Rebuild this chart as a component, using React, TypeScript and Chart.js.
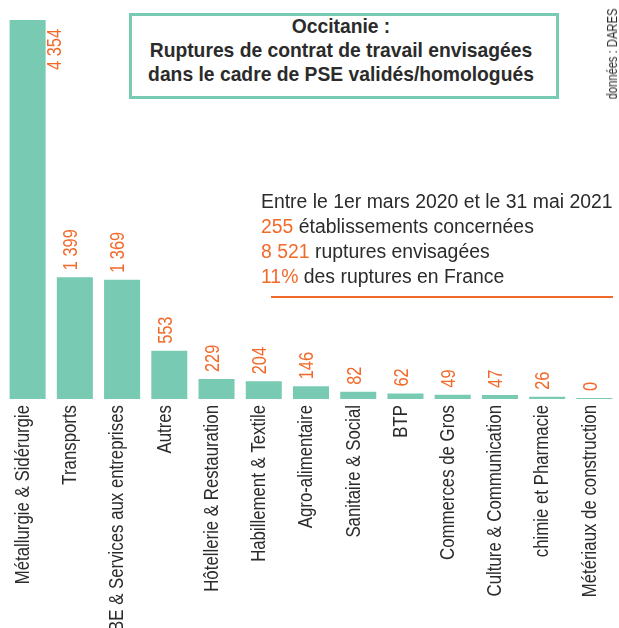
import React, { useEffect, useRef } from "react";
import { Chart, registerables } from "chart.js";

Chart.register(...registerables);

const categories = [
  "Métallurgie & Sidérurgie",
  "Transports",
  "BE & Services aux entreprises",
  "Autres",
  "Hôtellerie & Restauration",
  "Habillement & Textile",
  "Agro-alimentaire",
  "Sanitaire & Social",
  "BTP",
  "Commerces de Gros",
  "Culture & Communication",
  "chimie et Pharmacie",
  "Métériaux de construction",
];
const ruptures = [4354, 1399, 1369, 553, 229, 204, 146, 82, 62, 49, 47, 26, 0];

const titleLines = [
  "Occitanie :",
  "Ruptures de contrat de travail envisagées",
  "dans le cadre de PSE validés/homologués",
];
const summaryIntro = "Entre le 1er mars 2020 et le 31 mai 2021";
const summaryValues = ["255", "8 521", "11%"];
const summaryTexts = [" établissements concernées", " ruptures envisagées", " des ruptures en France"];
const sourceText = "données : DARES";

const TEAL = "#79cab3";
const ORANGE = "#f26a2b";
const DARK = "#2b2b2b";
const FONT = "'Liberation Sans', Arial, sans-serif";

const fmt = (v: number) => v.toString().replace(/\B(?=(\d{3})+(?!\d))/g, " ");

function drawRotated(ctx: any, txt: string, x: number, y: number, align: string, sx: number) {
  ctx.save();
  ctx.translate(x, y);
  ctx.rotate(-Math.PI / 2);
  ctx.scale(sx, 1);
  ctx.textAlign = align;
  ctx.textBaseline = "middle";
  ctx.fillText(txt, 0, 0);
  ctx.restore();
}

const labelsPlugin = {
  id: "labelsPlugin",
  afterDatasetsDraw(chart: any) {
    const ctx = chart.ctx;
    const meta = chart.getDatasetMeta(0);
    const data = chart.data.datasets[0].data as number[];
    const xScale = chart.scales.x;
    const base = chart.chartArea.bottom;
    ctx.save();
    // value labels
    ctx.fillStyle = ORANGE;
    ctx.font = `21px ${FONT}`;
    const sxv = 0.78;
    meta.data.forEach((bar: any, i: number) => {
      const txt = fmt(data[i]);
      const w = ctx.measureText(txt).width * sxv;
      let x = bar.x - 3.5;
      let y = bar.y - 7;
      if (y - w < 2) {
        x = bar.x + bar.width / 2 + 10;
        y = bar.y + 50;
      }
      drawRotated(ctx, txt, x, y, "left", sxv);
    });
    // category labels
    ctx.fillStyle = DARK;
    ctx.font = `21px ${FONT}`;
    (chart.data.labels as string[]).forEach((lab: string, i: number) => {
      const x = xScale.getPixelForTick(i) - 4.5;
      drawRotated(ctx, lab, x, base + 6, "right", 0.8);
    });
    ctx.restore();
  },
};

const lineStyle = (top: number, left: number, size: number, sx: number, extra: any = {}) => ({
  position: "absolute" as const,
  top,
  left,
  fontSize: size,
  lineHeight: `${size}px`,
  whiteSpace: "nowrap" as const,
  transform: `scaleX(${sx})`,
  transformOrigin: "left top",
  ...extra,
});

export default function App() {
  const ref = useRef<HTMLCanvasElement | null>(null);
  useEffect(() => {
    if (!ref.current) return;
    const chart = new Chart(ref.current, {
      type: "bar",
      data: {
        labels: categories,
        datasets: [
          {
            data: ruptures,
            backgroundColor: TEAL,
            borderWidth: 0,
            barPercentage: 0.763,
            categoryPercentage: 1,
            minBarLength: 1,
          },
        ],
      },
      options: {
        animation: false,
        responsive: false,
        maintainAspectRatio: false,
        layout: { padding: { top: 20, left: 4, right: 1, bottom: 0 } },
        plugins: { legend: { display: false }, tooltip: { enabled: false }, title: { display: false } },
        scales: {
          x: {
            grid: { display: false },
            border: { display: false },
            ticks: { display: false, autoSkip: false },
            afterFit: (scale: any) => {
              scale.height = 229;
            },
          },
          y: { display: false, min: 0, max: 4354 },
        },
      },
      plugins: [labelsPlugin],
    });
    return () => chart.destroy();
  }, []);

  const titleFs = 19.3;
  const titleBase = [33.3, 57.3, 81.3];
  const sumFs = 20;
  const sumBase = [208.3, 233.3, 258.3, 283.3];

  return (
    <div style={{ position: "absolute", left: 0, top: 0, width: 619, height: 628, overflow: "hidden", background: "#fff", fontFamily: FONT }}>
      <canvas ref={ref} width={619} height={628} style={{ position: "absolute", left: 0, top: 0, width: 619, height: 628 }} />
      <div
        style={{
          position: "absolute",
          left: 129,
          top: 13,
          width: 430,
          height: 86,
          boxSizing: "border-box",
          border: `3px solid ${TEAL}`,
          background: "#fff",
        }}
      />
      {titleLines.map((l, i) => (
        <div
          key={i}
          style={{
            position: "absolute",
            left: 141,
            width: 400,
            top: titleBase[i] - 0.8465 * titleFs,
            textAlign: "center",
            fontWeight: "bold",
            fontSize: titleFs,
            lineHeight: `${titleFs}px`,
            color: DARK,
            whiteSpace: "nowrap",
          }}
        >
          {l}
        </div>
      ))}
      <div style={lineStyle(sumBase[0] - 0.8465 * sumFs, 261, sumFs, 0.97, { color: DARK })}>{summaryIntro}</div>
      {summaryValues.map((v, i) => (
        <div key={i} style={lineStyle(sumBase[i + 1] - 0.8465 * sumFs, 261, sumFs, 0.97, { color: DARK })}>
          <span style={{ color: ORANGE }}>{v}</span>
          {summaryTexts[i]}
        </div>
      ))}
      <div style={{ position: "absolute", left: 271, top: 296, width: 342, height: 2, background: ORANGE }} />
      <div
        style={{
          position: "absolute",
          left: 612,
          top: 54,
          transform: "translate(-50%, -50%) rotate(-90deg) scaleX(0.8)",
          fontSize: 14,
          color: DARK,
          whiteSpace: "nowrap",
          lineHeight: "14px",
        }}
      >
        {sourceText}
      </div>
    </div>
  );
}
